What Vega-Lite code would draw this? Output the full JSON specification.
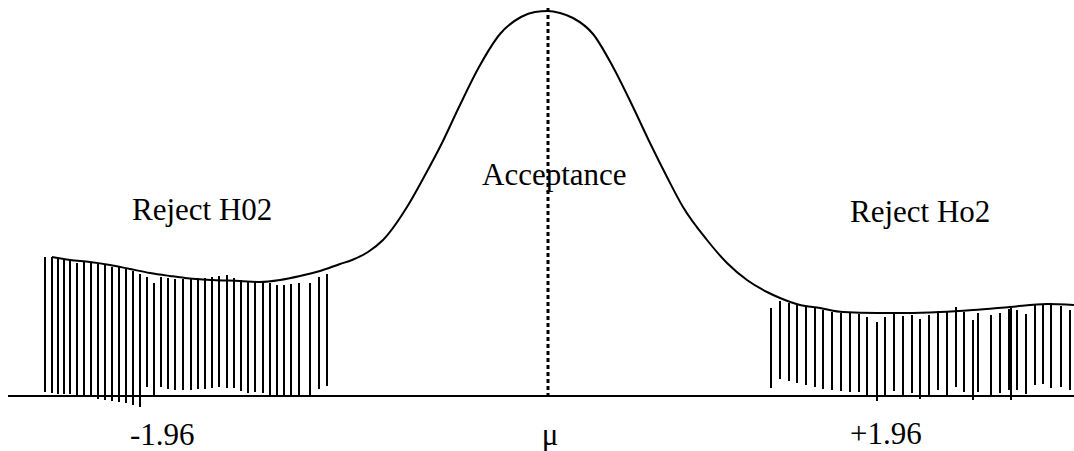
{
  "$schema": "https://vega.github.io/schema/vega-lite/v6.json",
  "width": 1074,
  "height": 451,
  "padding": 0,
  "autosize": {"type": "none"},
  "background": "white",
  "config": {"view": {"stroke": null}},
  "datasets": {
    "base": [{"x": 8, "x2": 1074, "y": 396}],
    "mean": [{"x": 548, "y": 8, "y2": 396}],
    "curve": [
      {"x": 52, "y": 257}, {"x": 70, "y": 260}, {"x": 90, "y": 262}, {"x": 110, "y": 265},
      {"x": 130, "y": 269}, {"x": 150, "y": 273}, {"x": 170, "y": 276}, {"x": 185, "y": 278},
      {"x": 213, "y": 280}, {"x": 240, "y": 281}, {"x": 260, "y": 282}, {"x": 280, "y": 280},
      {"x": 300, "y": 276}, {"x": 320, "y": 271}, {"x": 340, "y": 264}, {"x": 352, "y": 260},
      {"x": 368, "y": 252}, {"x": 383, "y": 240}, {"x": 407, "y": 207}, {"x": 424, "y": 177},
      {"x": 442, "y": 143}, {"x": 459, "y": 107}, {"x": 479, "y": 67}, {"x": 500, "y": 34},
      {"x": 521, "y": 17}, {"x": 535, "y": 12}, {"x": 548, "y": 11},
      {"x": 560, "y": 13}, {"x": 573, "y": 18}, {"x": 593, "y": 34}, {"x": 613, "y": 67},
      {"x": 633, "y": 107}, {"x": 650, "y": 143}, {"x": 667, "y": 177}, {"x": 683, "y": 207},
      {"x": 707, "y": 240}, {"x": 727, "y": 263}, {"x": 747, "y": 280}, {"x": 767, "y": 292},
      {"x": 780, "y": 298}, {"x": 800, "y": 305}, {"x": 820, "y": 308}, {"x": 843, "y": 312},
      {"x": 877, "y": 313}, {"x": 907, "y": 313}, {"x": 940, "y": 312}, {"x": 973, "y": 310},
      {"x": 1010, "y": 307}, {"x": 1047, "y": 304}, {"x": 1074, "y": 305}
    ],
    "hatch": [
      {"x": 45, "top": 257, "bottom": 392}, {"x": 52, "top": 257, "bottom": 393},
      {"x": 58, "top": 259, "bottom": 394}, {"x": 64, "top": 260, "bottom": 394},
      {"x": 70, "top": 261, "bottom": 394}, {"x": 77, "top": 263, "bottom": 395},
      {"x": 84, "top": 261, "bottom": 396}, {"x": 91, "top": 262, "bottom": 397},
      {"x": 98, "top": 264, "bottom": 399}, {"x": 105, "top": 265, "bottom": 400},
      {"x": 112, "top": 267, "bottom": 401}, {"x": 119, "top": 267, "bottom": 402},
      {"x": 126, "top": 269, "bottom": 403}, {"x": 133, "top": 271, "bottom": 405},
      {"x": 140, "top": 274, "bottom": 407}, {"x": 147, "top": 277, "bottom": 387},
      {"x": 154, "top": 283, "bottom": 395}, {"x": 161, "top": 277, "bottom": 387},
      {"x": 168, "top": 278, "bottom": 389}, {"x": 175, "top": 279, "bottom": 390},
      {"x": 183, "top": 279, "bottom": 390}, {"x": 191, "top": 279, "bottom": 390},
      {"x": 198, "top": 278, "bottom": 389}, {"x": 205, "top": 278, "bottom": 389},
      {"x": 212, "top": 277, "bottom": 388}, {"x": 219, "top": 276, "bottom": 387},
      {"x": 227, "top": 275, "bottom": 388}, {"x": 234, "top": 278, "bottom": 388},
      {"x": 241, "top": 280, "bottom": 391}, {"x": 248, "top": 281, "bottom": 393},
      {"x": 255, "top": 281, "bottom": 392}, {"x": 263, "top": 282, "bottom": 393},
      {"x": 270, "top": 283, "bottom": 397}, {"x": 277, "top": 285, "bottom": 397},
      {"x": 284, "top": 285, "bottom": 397}, {"x": 291, "top": 284, "bottom": 397},
      {"x": 299, "top": 283, "bottom": 397}, {"x": 310, "top": 283, "bottom": 397},
      {"x": 319, "top": 277, "bottom": 389}, {"x": 327, "top": 274, "bottom": 386},
      {"x": 771, "top": 308, "bottom": 388}, {"x": 780, "top": 301, "bottom": 379},
      {"x": 789, "top": 303, "bottom": 381}, {"x": 797, "top": 305, "bottom": 383},
      {"x": 806, "top": 307, "bottom": 385}, {"x": 815, "top": 308, "bottom": 387},
      {"x": 823, "top": 310, "bottom": 389}, {"x": 832, "top": 312, "bottom": 390},
      {"x": 841, "top": 313, "bottom": 391}, {"x": 850, "top": 313, "bottom": 392},
      {"x": 859, "top": 314, "bottom": 392}, {"x": 867, "top": 317, "bottom": 397},
      {"x": 877, "top": 322, "bottom": 401}, {"x": 885, "top": 317, "bottom": 397},
      {"x": 894, "top": 312, "bottom": 391}, {"x": 903, "top": 316, "bottom": 396},
      {"x": 912, "top": 315, "bottom": 393}, {"x": 920, "top": 319, "bottom": 399},
      {"x": 929, "top": 315, "bottom": 395}, {"x": 938, "top": 311, "bottom": 390},
      {"x": 947, "top": 311, "bottom": 396}, {"x": 956, "top": 307, "bottom": 387},
      {"x": 964, "top": 312, "bottom": 392}, {"x": 973, "top": 320, "bottom": 400},
      {"x": 978, "top": 313, "bottom": 392}, {"x": 991, "top": 315, "bottom": 395},
      {"x": 1000, "top": 313, "bottom": 393}, {"x": 1009, "top": 309, "bottom": 390},
      {"x": 1011, "top": 308, "bottom": 400}, {"x": 1017, "top": 310, "bottom": 390},
      {"x": 1026, "top": 314, "bottom": 394}, {"x": 1035, "top": 305, "bottom": 385},
      {"x": 1043, "top": 304, "bottom": 384}, {"x": 1051, "top": 303, "bottom": 388},
      {"x": 1061, "top": 306, "bottom": 387}, {"x": 1070, "top": 310, "bottom": 390}
    ],
    "labels": [
      {"x": 132, "y": 220, "text": "Reject H02"},
      {"x": 482, "y": 185, "text": "Acceptance"},
      {"x": 850, "y": 222, "text": "Reject Ho2"},
      {"x": 130, "y": 445, "text": "-1.96"},
      {"x": 850, "y": 444, "text": "+1.96"}
    ],
    "mu": [{"x": 550, "y": 445, "text": "μ"}]
  },
  "layer": [
    {
      "data": {"name": "hatch"},
      "mark": {"type": "rule", "color": "black", "strokeWidth": 2},
      "encoding": {
        "x": {"field": "x", "type": "quantitative", "scale": {"domain": [0, 1074], "nice": false, "zero": false}, "axis": null},
        "y": {"field": "top", "type": "quantitative", "scale": {"domain": [0, 451], "reverse": true, "nice": false, "zero": false}, "axis": null},
        "y2": {"field": "bottom"}
      }
    },
    {
      "data": {"name": "base"},
      "mark": {"type": "rule", "color": "black", "strokeWidth": 2},
      "encoding": {
        "x": {"field": "x", "type": "quantitative"},
        "x2": {"field": "x2"},
        "y": {"field": "y", "type": "quantitative"}
      }
    },
    {
      "data": {"name": "curve"},
      "mark": {"type": "line", "color": "black", "strokeWidth": 2, "interpolate": "monotone"},
      "encoding": {
        "x": {"field": "x", "type": "quantitative"},
        "y": {"field": "y", "type": "quantitative"}
      }
    },
    {
      "data": {"name": "mean"},
      "mark": {"type": "rule", "color": "black", "strokeWidth": 3, "strokeDash": [4, 3]},
      "encoding": {
        "x": {"field": "x", "type": "quantitative"},
        "y": {"field": "y", "type": "quantitative"},
        "y2": {"field": "y2"}
      }
    },
    {
      "data": {"name": "labels"},
      "mark": {"type": "text", "font": "Liberation Serif", "fontSize": 31, "color": "black", "align": "left", "baseline": "alphabetic"},
      "encoding": {
        "x": {"field": "x", "type": "quantitative"},
        "y": {"field": "y", "type": "quantitative"},
        "text": {"field": "text"}
      }
    },
    {
      "data": {"name": "mu"},
      "mark": {"type": "text", "font": "Liberation Serif", "fontSize": 31, "color": "black", "align": "center", "baseline": "alphabetic"},
      "encoding": {
        "x": {"field": "x", "type": "quantitative"},
        "y": {"field": "y", "type": "quantitative"},
        "text": {"field": "text"}
      }
    }
  ]
}
